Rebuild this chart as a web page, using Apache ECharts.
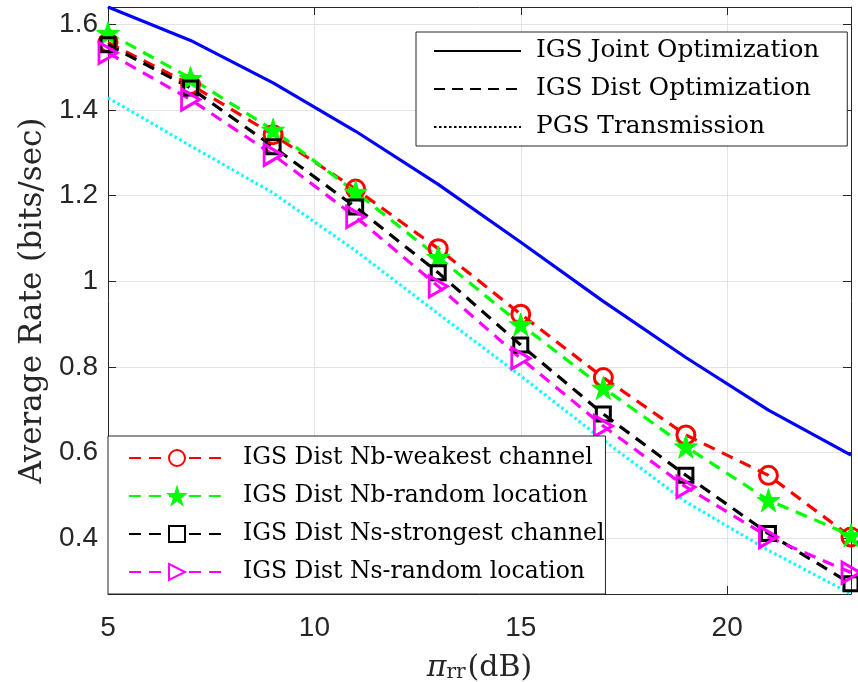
<!DOCTYPE html>
<html>
<head>
<meta charset="utf-8">
<script src="https://cdn.jsdelivr.net/npm/echarts@6/dist/echarts.min.js"></script>
<style>
html, body { margin: 0; padding: 0; background: #fff; }
#main { width: 858px; height: 682px; }
</style>
</head>
<body>
<div id="main"></div>
<script>
// x values (dB)
var xVals = [5, 7, 9, 11, 13, 15, 17, 19, 21, 23];
var xTicks = [5, 10, 15, 20];
var yTicks = [0.4, 0.6, 0.8, 1, 1.2, 1.4, 1.6];

var jointOpt = [1.640, 1.562, 1.463, 1.350, 1.226, 1.091, 0.953, 0.822, 0.699, 0.594];
var pgsTrans = [1.428, 1.316, 1.206, 1.071, 0.924, 0.779, 0.629, 0.485, 0.372, 0.270];
var nbWeakest = [1.557, 1.459, 1.342, 1.215, 1.076, 0.923, 0.775, 0.641, 0.547, 0.403];
var nbRandom = [1.579, 1.474, 1.353, 1.208, 1.056, 0.899, 0.751, 0.614, 0.489, 0.407];
var nsStrongest = [1.552, 1.451, 1.314, 1.173, 1.020, 0.851, 0.690, 0.547, 0.411, 0.294];
var nsRandom = [1.533, 1.424, 1.295, 1.150, 0.988, 0.820, 0.662, 0.520, 0.403, 0.320];

var topLegendNames = ['IGS Joint Optimization', 'IGS Dist Optimization', 'PGS Transmission'];
var bottomLegendNames = ['IGS Dist Nb-weakest channel', 'IGS Dist Nb-random location',
    'IGS Dist Ns-strongest channel', 'IGS Dist Ns-random location'];

var myChart = echarts.init(document.getElementById('main'));

function pairs(ys)
{
    var out = [];
    for (var i = 0; i < xVals.length; i++) {
        out.push([xVals[i], ys[i]]);
    }
    return out;
}

var starPath = 'path://M0,-100L22.45,-30.9L95.1,-30.9L36.3,11.8L58.8,80.9L0,38.2L-58.8,80.9L-36.3,11.8L-95.1,-30.9L-22.45,-30.9Z';
var triPath = 'path://M0,0L17,10L0,20Z';
var dash = [12, 8];
var axisColor = '#262626';
var gridColor = '#e3e3e3';

// hollow markers get a white face in the legend
var bottomLegendData = [
    { name: bottomLegendNames[0], itemStyle: { color: '#fff' } },
    { name: bottomLegendNames[1] },
    { name: bottomLegendNames[2], itemStyle: { color: '#fff' } },
    { name: bottomLegendNames[3], itemStyle: { color: '#fff' } }
];

var option = {
    animation: false,
    backgroundColor: '#fff',
    grid: { left: 108, right: 7, top: 7, bottom: 88, containLabel: false, outerBoundsMode: 'none' },
    xAxis: [{
        type: 'value', min: 5, max: 23,
        name: '{i|π}{s|rr}{n|(dB)}',
        nameLocation: 'middle', nameGap: 59,
        nameTextStyle: {
            rich: {
                i: { fontFamily: 'DejaVu Serif', fontSize: 30, fontStyle: 'italic', color: '#262626' },
                s: { fontFamily: 'DejaVu Serif', fontSize: 20, color: '#262626', verticalAlign: 'bottom', padding: [0, 2, 0, 0] },
                n: { fontFamily: 'DejaVu Serif', fontSize: 30, color: '#262626' }
            }
        },
        axisLine: { lineStyle: { color: axisColor, width: 1 } },
        axisTick: { inside: true, length: 8, customValues: xTicks, lineStyle: { color: axisColor } },
        axisLabel: { customValues: xTicks, fontFamily: 'Liberation Sans', fontSize: 28, color: '#262626', margin: 20 },
        splitLine: { show: true, lineStyle: { color: gridColor, width: 1 } }
    }, {
        type: 'value', min: 5, max: 23, position: 'top',
        axisLine: { show: true, onZero: false, lineStyle: { color: axisColor, width: 1 } },
        axisTick: { inside: true, length: 8, customValues: xTicks, lineStyle: { color: axisColor } },
        axisLabel: { show: false },
        splitLine: { show: false }
    }],
    yAxis: [{
        type: 'value', min: 0.27, max: 1.64,
        name: 'Average Rate (bits/sec)',
        nameLocation: 'middle', nameGap: 56,
        nameTextStyle: { fontFamily: 'DejaVu Serif', fontSize: 31, color: '#262626' },
        axisLine: { show: true, lineStyle: { color: axisColor, width: 1 } },
        axisTick: { show: true, inside: true, length: 8, customValues: yTicks, lineStyle: { color: axisColor } },
        axisLabel: { customValues: yTicks, fontFamily: 'Liberation Sans', fontSize: 28, color: '#262626', margin: 10 },
        splitLine: { show: true, customValues: yTicks, lineStyle: { color: gridColor, width: 1 } }
    }, {
        type: 'value', min: 0.27, max: 1.64, position: 'right',
        axisLine: { show: true, onZero: false, lineStyle: { color: axisColor, width: 1 } },
        axisTick: { show: true, inside: true, length: 8, customValues: yTicks, lineStyle: { color: axisColor } },
        axisLabel: { show: false },
        splitLine: { show: false }
    }],
    legend: [{
        data: topLegendNames,
        orient: 'vertical',
        left: 416, top: 32,
        padding: [6, 28, 6, 17],
        itemWidth: 87, itemHeight: 26, itemGap: 12,
        backgroundColor: '#fff',
        borderColor: '#262626', borderWidth: 1, borderRadius: 0,
        textStyle: { fontFamily: 'DejaVu Serif', fontSize: 24.8, color: '#000', lineHeight: 26, padding: [0, 0, 0, 10] }
    }, {
        data: bottomLegendData,
        orient: 'vertical',
        left: 108, top: 436,
        padding: [9, 1, 9, 20],
        itemWidth: 96, itemHeight: 20, itemGap: 12,
        backgroundColor: '#fff',
        borderColor: '#262626', borderWidth: 1, borderRadius: 0,
        textStyle: { fontFamily: 'DejaVu Serif', fontSize: 23.5, color: '#000', lineHeight: 26, padding: [0, 0, 0, 13] }
    }],
    series: [
        // legend-only entries (black line styles)
        { name: topLegendNames[0], type: 'line', data: [], symbol: 'none', itemStyle: { color: '#000', opacity: 0 },
          lineStyle: { color: '#000', width: 3, type: 'solid' } },
        { name: topLegendNames[1], type: 'line', data: [], symbol: 'none', itemStyle: { color: '#000', opacity: 0 },
          lineStyle: { color: '#000', width: 3, type: [11, 7] } },
        { name: topLegendNames[2], type: 'line', data: [], symbol: 'none', itemStyle: { color: '#000', opacity: 0 },
          lineStyle: { color: '#000', width: 3, type: [2.5, 2.5] } },

        { name: 'joint', type: 'line', data: pairs(jointOpt), symbol: 'none',
          lineStyle: { color: '#0000ff', width: 3.2 }, itemStyle: { color: '#0000ff' } },
        { name: 'pgs', type: 'line', data: pairs(pgsTrans), symbol: 'none',
          lineStyle: { color: '#00ffff', width: 3.2, type: [2.5, 3] }, itemStyle: { color: '#00ffff' } },

        { name: bottomLegendNames[0], type: 'line', data: pairs(nbWeakest),
          symbol: 'circle', symbolSize: 18, showSymbol: true,
          lineStyle: { color: '#ff0000', width: 3.2, type: dash },
          itemStyle: { color: 'transparent', borderColor: '#ff0000', borderWidth: 3 } },
        { name: bottomLegendNames[1], type: 'line', data: pairs(nbRandom),
          symbol: starPath, symbolSize: 23, showSymbol: true,
          lineStyle: { color: '#00ff00', width: 3.2, type: dash },
          itemStyle: { color: '#00ff00', borderColor: '#00ff00', borderWidth: 1 } },
        { name: bottomLegendNames[2], type: 'line', data: pairs(nsStrongest),
          symbol: 'rect', symbolSize: 14, showSymbol: true,
          lineStyle: { color: '#000000', width: 3.2, type: dash },
          itemStyle: { color: 'transparent', borderColor: '#000000', borderWidth: 3 } },
        { name: bottomLegendNames[3], type: 'line', data: pairs(nsRandom),
          symbol: triPath, symbolSize: [18, 21], showSymbol: true,
          lineStyle: { color: '#ff00ff', width: 3.2, type: dash },
          itemStyle: { color: 'transparent', borderColor: '#ff00ff', borderWidth: 3 } }
    ]
};

myChart.setOption(option);
</script>
</body>
</html>
